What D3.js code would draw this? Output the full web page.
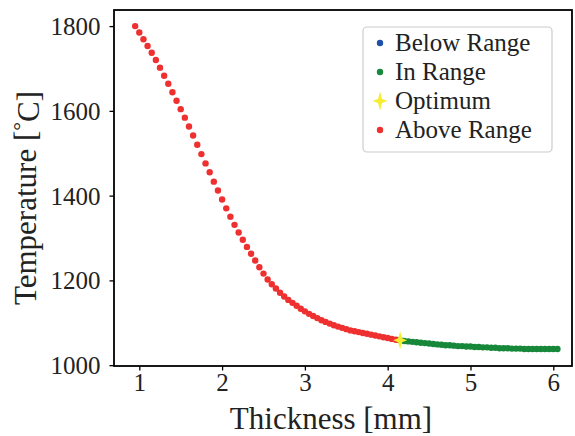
<!DOCTYPE html>
<html>
<head>
<meta charset="utf-8">
<script src="https://cdn.jsdelivr.net/npm/d3@7"></script>
<style>
  html, body { margin: 0; padding: 0; background: #fff; }
  svg { display: block; font-family: "Liberation Serif", "Times New Roman", serif; }
</style>
</head>
<body>
<div id="chart"></div>
<script>
// thickness [mm] and temperature [°C]
const thickness = [0.95, 1.00, 1.05, 1.10, 1.15, 1.20, 1.25, 1.30, 1.35, 1.40, 1.45, 1.50, 1.55, 1.60, 1.65, 1.70, 1.75, 1.80, 1.85, 1.90,
  1.95, 2.00, 2.05, 2.10, 2.15, 2.20, 2.25, 2.30, 2.35, 2.40, 2.45, 2.50, 2.55, 2.60, 2.65, 2.70, 2.75, 2.80, 2.85, 2.90,
  2.95, 3.00, 3.05, 3.10, 3.15, 3.20, 3.25, 3.30, 3.35, 3.40, 3.45, 3.50, 3.55, 3.60, 3.65, 3.70, 3.75, 3.80, 3.85, 3.90,
  3.95, 4.00, 4.05, 4.10, 4.15, 4.20, 4.25, 4.30, 4.35, 4.40, 4.45, 4.50, 4.55, 4.60, 4.65, 4.70, 4.75, 4.80, 4.85, 4.90,
  4.95, 5.00, 5.05, 5.10, 5.15, 5.20, 5.25, 5.30, 5.35, 5.40, 5.45, 5.50, 5.55, 5.60, 5.65, 5.70, 5.75, 5.80, 5.85, 5.90,
  5.95, 6.00, 6.05];
const temperature = [1800, 1785, 1769, 1753, 1737, 1720, 1702, 1683, 1664, 1644, 1624, 1604, 1584, 1563, 1542, 1520, 1498, 1476, 1455, 1433,
  1412, 1391, 1370, 1350, 1331, 1313, 1296, 1279, 1263, 1247, 1231, 1216, 1202, 1191, 1181, 1171, 1162, 1154, 1147, 1140,
  1133, 1127, 1121, 1116, 1111, 1106, 1102, 1098, 1094, 1091, 1088, 1085, 1082, 1080, 1078, 1076, 1074, 1072, 1070, 1068,
  1066, 1064, 1062, 1060, 1059, 1057, 1056, 1055, 1054, 1053, 1052, 1051, 1050, 1049, 1048, 1047, 1047, 1046, 1045, 1045,
  1044, 1044, 1043, 1043, 1042, 1042, 1041, 1041, 1040, 1040, 1040, 1039, 1039, 1039, 1038, 1038, 1038, 1038, 1038, 1038,
  1038, 1038, 1038];
const optimum = { thickness: 4.15, temperature: 1059 };
const lowLimit = 4.15; // first thickness that is in range

const xTicks = [1, 2, 3, 4, 5, 6];
const yTicks = [1000, 1200, 1400, 1600, 1800];
const legendLabels = ["Below Range", "In Range", "Optimum", "Above Range"];

const colors = { below: "#1f4fa8", in: "#17873a", opt: "#f8ec30", above: "#ee3030" };
const FONT = '"Liberation Serif", "Times New Roman", serif';

const W = 575, H = 436;
const mLeft = 114, mRight = 572, mTop = 10, mBottom = 366;

const svg = d3.select("#chart").append("svg")
    .attr("width", W)
    .attr("height", H);

const x = d3.scaleLinear().domain([0.6944, 6.226]).range([mLeft, mRight]);
const y = d3.scaleLinear().domain([998, 1838]).range([mBottom, mTop]);

const points = thickness.map((t, i) => ({ t, v: temperature[i], cls: t < lowLimit ? "above" : "in" }));

// 4-pointed star used for the optimum
function star(cx, cy, w, h) {
    const k = 2;
    return `M${cx},${cy - h}L${cx + k},${cy - k}L${cx + w},${cy}L${cx + k},${cy + k}L${cx},${cy + h}L${cx - k},${cy + k}L${cx - w},${cy}L${cx - k},${cy - k}Z`;
}

// points
svg.append("g").selectAll("circle")
    .data(points)
    .join("circle")
    .attr("cx", d => x(d.t))
    .attr("cy", d => y(d.v))
    .attr("r", 3.2)
    .attr("fill", d => colors[d.cls]);

svg.append("path")
    .attr("d", star(x(optimum.thickness), y(optimum.temperature), 7, 9))
    .attr("fill", colors.opt);

// axes
const xAxis = svg.append("g")
    .attr("transform", `translate(0,${mBottom})`)
    .call(d3.axisBottom(x).tickValues(xTicks).tickSize(4.5).tickPadding(3).tickFormat(d3.format("d")));
const yAxis = svg.append("g")
    .attr("transform", `translate(${mLeft},0)`)
    .call(d3.axisLeft(y).tickValues(yTicks).tickSize(4.5).tickPadding(9).tickFormat(d3.format("d")));

[xAxis, yAxis].forEach(a => {
    a.attr("font-family", FONT).attr("font-size", 25);
    a.select(".domain").remove();
    a.selectAll(".tick line").attr("stroke", "#000").attr("stroke-width", 1.3);
    a.selectAll(".tick text")
        .attr("fill", "#222")
        .attr("font-family", FONT)
        .attr("font-size", 25);
});
xAxis.selectAll(".tick text").attr("dy", "0.71em");
yAxis.selectAll(".tick text").attr("dy", "0.34em");

svg.append("rect")
    .attr("x", mLeft).attr("y", mTop)
    .attr("width", mRight - mLeft).attr("height", mBottom - mTop)
    .attr("fill", "none")
    .attr("stroke", "#000")
    .attr("stroke-width", 1.8);

// axis labels
svg.append("text")
    .attr("x", 331).attr("y", 429)
    .attr("text-anchor", "middle")
    .attr("fill", "#222")
    .attr("font-family", FONT)
    .attr("font-size", 31)
    .text("Thickness [mm]");

const yl = svg.append("text")
    .attr("transform", "translate(36,198) rotate(-90)")
    .attr("text-anchor", "middle")
    .attr("fill", "#222")
    .attr("font-family", FONT)
    .attr("font-size", 31);
yl.append("tspan").text("Temperature [");
yl.append("tspan").attr("dy", "-0.35em").attr("font-size", 22).text("°");
yl.append("tspan").attr("dy", "0.35em").text("C]");

// legend
const lg = svg.append("g");
lg.append("rect")
    .attr("x", 363).attr("y", 27)
    .attr("width", 189).attr("height", 125)
    .attr("rx", 4)
    .attr("fill", "#fff")
    .attr("fill-opacity", 0.8)
    .attr("stroke", "#cccccc")
    .attr("stroke-width", 1.2);

const keys = ["below", "in", "opt", "above"];
const rowY = d3.scalePoint().domain(legendLabels).range([43, 130]);
legendLabels.forEach((lab, i) => {
    const cy = rowY(lab);
    if (keys[i] === "opt") {
        lg.append("path").attr("d", star(380, cy, 7.5, 9.5)).attr("fill", colors.opt);
    } else {
        lg.append("circle").attr("cx", 380).attr("cy", cy).attr("r", 3.2).attr("fill", colors[keys[i]]);
    }
    lg.append("text")
        .attr("x", 395).attr("y", cy)
        .attr("dy", "0.33em")
        .attr("fill", "#222")
        .attr("font-family", FONT)
        .attr("font-size", 25)
        .text(lab);
});
</script>
</body>
</html>
